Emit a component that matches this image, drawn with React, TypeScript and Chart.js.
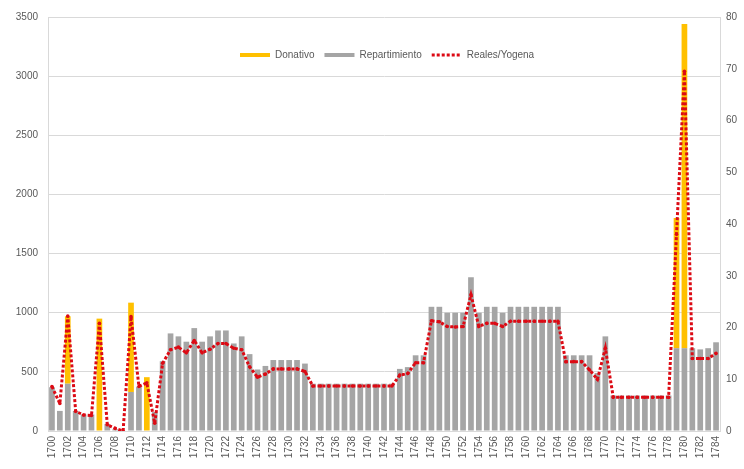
import React, { useEffect, useRef } from 'react';
import { Chart, registerables } from 'chart.js';

Chart.register(...registerables);

const years = [
  '1700','1701','1702','1703','1704','1705','1706','1707','1708','1709',
  '1710','1711','1712','1713','1714','1715','1716','1717','1718','1719',
  '1720','1721','1722','1723','1724','1725','1726','1727','1728','1729',
  '1730','1731','1732','1733','1734','1735','1736','1737','1738','1739',
  '1740','1741','1742','1743','1744','1745','1746','1747','1748','1749',
  '1750','1751','1752','1753','1754','1755','1756','1757','1758','1759',
  '1760','1761','1762','1763','1764','1765','1766','1767','1768','1769',
  '1770','1771','1772','1773','1774','1775','1776','1777','1778','1779',
  '1780','1781','1782','1783','1784',
];

const repartimiento = [
  370, 170, 400, 170, 140, 140, 0, 60, 15, 0,
  330, 375, 0, 160, 590, 825, 800, 755, 870, 755,
  800, 850, 850, 740, 800, 650, 520, 550, 600, 600,
  600, 600, 570, 400, 400, 400, 400, 400, 400, 400,
  400, 400, 400, 400, 525, 540, 640, 640, 1050, 1050,
  1000, 1000, 1000, 1300, 1000, 1050, 1050, 1000, 1050, 1050,
  1050, 1050, 1050, 1050, 1050, 640, 640, 640, 640, 490,
  800, 300, 300, 300, 300, 300, 300, 300, 300, 700,
  700, 700, 690, 700, 750,
];

const donativo = [
  0, 0, 570, 0, 0, 0, 950, 0, 0, 0,
  755, 0, 455, 0, 0, 0, 0, 0, 0, 0,
  0, 0, 0, 0, 0, 0, 0, 0, 0, 0,
  0, 0, 0, 0, 0, 0, 0, 0, 0, 0,
  0, 0, 0, 0, 0, 0, 0, 0, 0, 0,
  0, 0, 0, 0, 0, 0, 0, 0, 0, 0,
  0, 0, 0, 0, 0, 0, 0, 0, 0, 0,
  0, 0, 0, 0, 0, 0, 0, 0, 0, 1100,
  2740, 0, 0, 0, 0,
];

const realesYogena = [
  8.6, 5.3, 22.2, 3.8, 3.1, 3.0, 20.8, 1.2, 0.5, 0,
  22.1, 8.6, 9.3, 1.5, 13.1, 15.7, 16.2, 15.1, 17.5, 15.1,
  15.8, 16.9, 16.9, 16.0, 15.7, 12.4, 10.4, 11.0, 12.0, 12.0,
  12.0, 12.0, 11.5, 8.7, 8.7, 8.7, 8.7, 8.7, 8.7, 8.7,
  8.7, 8.7, 8.7, 8.7, 10.8, 11.1, 13.2, 13.2, 21.3, 21.1,
  20.2, 20.1, 20.2, 26.3, 20.2, 20.8, 20.8, 20.2, 21.2, 21.2,
  21.2, 21.2, 21.2, 21.2, 21.2, 13.4, 13.4, 13.4, 11.8, 10.0,
  16.0, 6.5, 6.5, 6.5, 6.5, 6.5, 6.5, 6.5, 6.5, 38,
  69.5, 14.0, 14.0, 14.0, 15.0,
];

const leftMax = 3500;
const leftStep = 500;
const rightMax = 80;
const rightStep = 10;

const YELLOW = '#FFC000';
const GRAY = '#A5A5A5';
const RED = '#DC0A14';
const TEXT = '#595959';
const FONT_FAMILY = '"Liberation Sans", Arial, sans-serif';

const customLegend = {
  id: 'customLegend',
  afterDraw(chart: any) {
    const ctx = chart.ctx as CanvasRenderingContext2D;
    const items = [
      { label: 'Donativo', kind: 'bar', color: YELLOW },
      { label: 'Repartimiento', kind: 'bar', color: GRAY },
      { label: 'Reales/Yogena', kind: 'dots', color: RED },
    ];
    ctx.save();
    ctx.font = `10px ${FONT_FAMILY}`;
    ctx.textBaseline = 'middle';
    let x = 240;
    const y = 55;
    const sw = 30;
    for (const it of items) {
      if (it.kind === 'bar') {
        ctx.fillStyle = it.color;
        ctx.fillRect(x, y - 2, sw, 4);
      } else {
        ctx.strokeStyle = it.color;
        ctx.lineWidth = 3;
        ctx.setLineDash([3, 2]);
        ctx.beginPath();
        ctx.moveTo(x, y);
        ctx.lineTo(x + sw, y);
        ctx.stroke();
        ctx.setLineDash([]);
      }
      x += sw + 5;
      ctx.fillStyle = TEXT;
      ctx.fillText(it.label, x, y);
      x += ctx.measureText(it.label).width + 10;
    }
    ctx.restore();
  },
};

export default function App() {
  const canvasRef = useRef<HTMLCanvasElement | null>(null);

  useEffect(() => {
    document.body.style.margin = '0';
    const canvas = canvasRef.current;
    if (!canvas) return;
    const chart = new Chart(canvas, {
      type: 'bar',
      data: {
        labels: years,
        datasets: [
          {
            type: 'line',
            label: 'Reales/Yogena',
            data: realesYogena,
            yAxisID: 'y1',
            borderColor: RED,
            backgroundColor: RED,
            borderWidth: 3,
            borderDash: [3, 2],
            pointRadius: 1.8,
            pointBorderWidth: 0,
            pointBackgroundColor: RED,
            tension: 0,
            order: 0,
          } as any,
          {
            label: 'Repartimiento',
            data: repartimiento,
            backgroundColor: GRAY,
            yAxisID: 'y',
            stack: 's',
            categoryPercentage: 1,
            barPercentage: 0.72,
            order: 1,
          },
          {
            label: 'Donativo',
            data: donativo,
            backgroundColor: YELLOW,
            yAxisID: 'y',
            stack: 's',
            categoryPercentage: 1,
            barPercentage: 0.72,
            order: 1,
          },
        ],
      },
      options: {
        animation: false,
        responsive: false,
        maintainAspectRatio: false,
        layout: { padding: { top: 17, left: 0, right: 0, bottom: 0 } },
        plugins: {
          legend: { display: false },
          tooltip: { enabled: false },
        },
        scales: {
          x: {
            stacked: true,
            grid: { display: false, drawTicks: false },
            border: { display: true, color: '#D9D9D9' },
            ticks: {
              autoSkip: false,
              minRotation: 90,
              maxRotation: 90,
              padding: 5,
              color: TEXT,
              font: { size: 10, family: FONT_FAMILY },
              callback: (_v: any, i: number) => (i % 2 === 0 ? years[i] : ''),
            },
            afterFit: (s: any) => { s.height = 38; },
          },
          y: {
            stacked: true,
            position: 'left',
            min: 0,
            max: leftMax,
            grid: { color: '#D9D9D9', drawTicks: false },
            border: { display: true, color: '#D9D9D9' },
            ticks: {
              stepSize: leftStep,
              padding: 10,
              color: TEXT,
              font: { size: 10, family: FONT_FAMILY },
              callback: (v: any) => String(v),
            },
            afterFit: (s: any) => { s.width = 48; },
          },
          y1: {
            position: 'right',
            min: 0,
            max: rightMax,
            grid: { drawOnChartArea: false, drawTicks: false },
            border: { display: true, color: '#D9D9D9' },
            ticks: {
              stepSize: rightStep,
              padding: 6,
              color: TEXT,
              font: { size: 10, family: FONT_FAMILY },
              callback: (v: any) => String(v),
            },
            afterFit: (s: any) => { s.width = 24; },
          },
        },
      },
      plugins: [customLegend],
    });
    return () => chart.destroy();
  }, []);

  return (
    <div style={{ width: 744, height: 469, background: '#fff' }}>
      <canvas ref={canvasRef} width={744} height={469} />
    </div>
  );
}
